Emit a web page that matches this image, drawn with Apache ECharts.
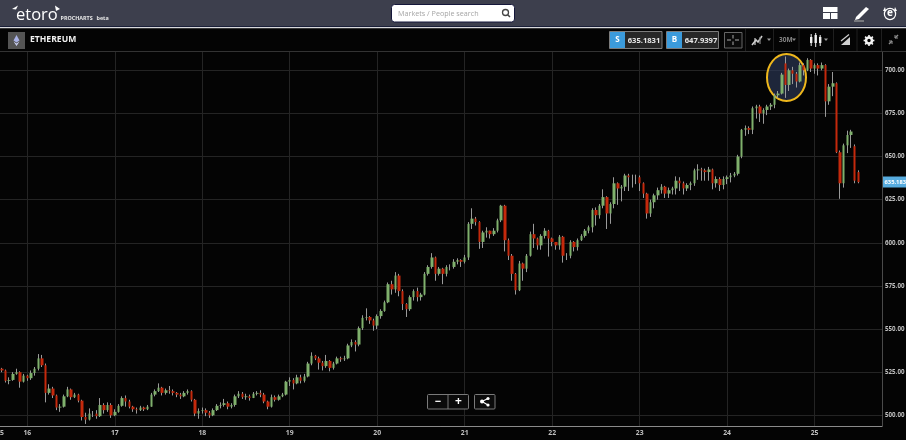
<!DOCTYPE html>
<html><head><meta charset="utf-8">
<script src="https://cdn.jsdelivr.net/npm/echarts@6/dist/echarts.min.js"></script>
<style>html,body{margin:0;padding:0;background:#000}#c{width:906px;height:440px}</style>
</head><body><div id="c"></div>
<script>
const dayTicks = [7,31,55,79,103,127,151,175,199,223];
const dayNames = {0:'5',7:'16',31:'17',55:'18',79:'19',103:'20',127:'21',151:'22',175:'23',199:'24',223:'25'};
const priceTicks = [500,525,550,575,600,625,650,675,700];
const slotCount = 242;
const lastPrice = '635.1831';
const askPrice = '647.9397';
const opens = [527,526,520,520.5,524,525,519.5,523,521.5,524.5,527,533,529,513,515.5,511.5,504.5,505,511,515,510.5,512,508.5,499,497.5,501,501,499.5,506,503,506,500,502,505.5,510,508,505,503.5,503,504.5,503.5,505,512,514,516,513,514.5,514,513,512,511,513,514,509,501,502.5,503,501.5,500,503,505.5,506,507,505,506,511,512.5,510.5,511,510,512.5,513,512,508,505,510.5,509,511,512,519.5,520.5,518.5,522,520,522.5,530,534.5,533,530.5,528.5,531.5,527.5,530,533,532.5,533,540.5,542.5,541,550.5,556.5,557,555,552,557.5,560.5,565.5,576,573,581,572,564.5,561.5,568.5,572,568.5,570,582,586,591.5,582,585,582,586,586,589,590,589,591.5,611,614,612,600.5,606,607,605,607,613,621.5,601.5,592.5,582,572.5,588,585,592.5,605,602.5,598.5,604,607,602.5,600.5,598.5,603.5,592.5,592.5,600.5,597.5,601.5,604,607,609,619,616,621.5,626.5,617,622.5,634.5,631.5,632.5,639,638,638,638,634.5,628.5,617,623.5,627.5,630.5,632.5,628.5,630.5,631.5,636,634.5,631.5,633.5,634.5,642,642.5,642,641,642.5,634.5,637,633.5,637,638,639,640,650,665.5,666.5,665.5,678,679,675,677,679,680,685.5,686.5,704,691.5,700,698,693.5,703,700,706,701,703,701,703,682,690.5,692.5,652.5,634.5,656.5,662.5,656,641];
const closes = [526,520,520.5,524,525,519.5,523,521.5,524.5,527,533,529,513,515.5,511.5,504.5,505,511,515,510.5,512,508.5,499,497.5,501,501,499.5,506,503,506,500,502,505.5,510,508,505,503.5,503,504.5,503.5,505,512,514,516,513,514.5,514,513,512,511,513,514,509,501,502.5,503,501.5,500,503,505.5,506,507,505,506,511,512.5,510.5,511,510,512.5,513,512,508,505,510.5,509,511,512,519.5,520.5,518.5,522,520,522.5,530,534.5,533,530.5,528.5,531.5,527.5,530,533,532.5,533,540.5,542.5,541,550.5,556.5,557,555,552,557.5,560.5,565.5,576,573,581,572,564.5,561.5,568.5,572,568.5,570,582,586,591.5,582,585,582,586,586,589,590,589,591.5,611,614,612,600.5,606,607,605,607,613,621.5,601.5,592.5,582,572.5,588,585,592.5,605,602.5,598.5,604,607,602.5,600.5,598.5,603.5,592.5,592.5,600.5,597.5,601.5,604,607,609,619,616,621.5,626.5,617,622.5,634.5,631.5,632.5,639,638,638,638,634.5,628.5,617,623.5,627.5,630.5,632.5,628.5,630.5,631.5,636,634.5,631.5,633.5,634.5,642,642.5,642,641,642.5,634.5,637,633.5,637,638,639,640,650,665.5,666.5,665.5,678,679,675,677,679,680,685.5,686.5,697.5,691.5,700,698,693.5,703,700,706,701,703,701,703,682,690.5,692.5,652.5,634.5,656.5,662.5,664.5,636,635.18];
const highs = [527.5,526.5,522,525,527,525.5,524,523.5,526,528,535.5,535,530,518,516.5,512,506.5,512,516.5,515.5,513,512.5,509,501.5,504,502.5,503,510,507,507.5,507,503.5,506.5,511,511.5,509,505.5,504.5,505.5,505,506,513,515,518.5,516.5,515.5,517,515,513.5,513,514,515,514.5,509.5,504,504.5,504,502.5,504,506.5,507.5,509.5,508,507,512,514,513.5,512.5,512,513.5,514,514.5,513,508.5,512,511.5,512,513,520,522,521.5,523.5,523.5,524,531,536.5,535,534,531.5,535,532,531,534,534,534.5,541.5,544,543.5,551.5,558,562,557.5,556,558.5,561.5,566.5,577,578,583,582,573,565,569.5,573,574,571,583,587,594,592,586,585.5,587,587.5,590.5,591,590.5,593,612,620,615,612.5,607,609,607,608.5,614,622,622,602.5,593.5,582.5,589.5,588.5,593.5,606.5,611,603,605,608.5,607.5,603,600,604.5,604,594,601.5,601,602.5,605,608,610,620,620.5,622.5,631,627,623.5,638,635,633.5,640,640,639.5,639.5,639,635,629,625,628.5,632,634,633,632,632.5,638.5,638,635.5,634.5,635.5,643,645.5,643.5,643,644,643,638.5,638,638.5,639,640.5,641,651,666,668,667.5,679,680,680,678,680,681,686.5,688,698.5,708,701,702,699,704.5,704,707,706.5,704,704,704.5,703.5,692,699,693,653.5,657.5,665,665.5,657,642];
const lows = [525,519,518,520,523.5,516,519,520,520.5,523,526,528,507.5,512,510,503,502,504.5,510.5,509,510,507.5,497,495,497,499,498,499,501,502,498.5,499.5,501.5,505,505,504,502,501,502.5,502.5,503,505,511,513.5,511.5,512,512.5,511.5,510.5,509.5,510.5,512,508,499.5,498,501,499.5,498.5,499.5,502.5,504,505,503.5,504,505,510,509.5,509,508.5,510,511.5,510.5,507,503.5,504.5,508,508.5,510.5,511.5,517,515,518,518.5,519,522,529,532,526.5,526,527.5,525.5,526.5,529.5,531,531.5,532.5,539.5,537,540,549.5,555,553,549,550,556,560,565,570,571,569,561,557,560.5,566.5,566,566.5,569.5,581,585,578,581,576,580.5,584,585,587.5,586,588,590,608,610,596.5,597,603,602.5,604,606,612,595,590,578,570,572,578,583,592,597,596,596,602.5,592,598,596,596,588.5,590,591,595,595.5,601,603,605.5,606,610,614,620,608,611,620,622,624,630,630,632,634,630,626,614,615,620,625,628.5,626,626,628,628,630,628,630,630.5,633,636.5,636,636,636,631,632,630,631,634,635,638,639,649,662,663,663,672,670,669,674,677,678,684,686,684,688,692,690,693,697,699.5,699,698,697,700,673,680,685,652,625.5,632,652,655,634.5,634.5];

const slots = Array.from({length:slotCount},(_,i)=>String(i));
const wickData = opens.map((o,i)=>[o,closes[i],lows[i],highs[i]]);
const bodyData = opens.map((o,i)=>[o,closes[i],Math.min(o,closes[i]),Math.max(o,closes[i])]);

const GREEN='#7fb06c', RED='#c4290c', WICK='#9a9a9a', BLUE='#3b9bdc';
const FONT='"Open Sans", sans-serif';
const HZ=100;
function rect(x,y,w,h,fill,stroke,r,z){return {type:'rect',z:z||HZ,shape:{x,y,width:w,height:h,r:r||0},style:{fill:fill||'transparent',stroke:stroke||null,lineWidth:1},silent:true};}
function line(x1,y1,x2,y2,c,w){return {type:'line',z:HZ+1,shape:{x1,y1,x2,y2},style:{stroke:c,lineWidth:w||1},silent:true};}
function text(t,x,y,fill,size,weight,align){return {type:'text',z:HZ+2,x,y,style:{text:t,fill,font:(weight||'normal')+' '+size+'px '+FONT,textAlign:align||'left',textVerticalAlign:'middle'},silent:true};}
function poly(pts,fill,stroke,w){return {type:fill?'polygon':'polyline',z:HZ+1,shape:{points:pts},style:{fill:fill||'transparent',stroke:stroke||null,lineWidth:w||1},silent:true};}
function circ(cx,cy,r,fill,stroke,w){return {type:'circle',z:HZ+1,shape:{cx,cy,r},style:{fill:fill||'transparent',stroke:stroke||null,lineWidth:w||1},silent:true};}

const gear=[];
[[0,-5.4,0,-3],[0,5.4,0,3],[-5.4,0,-3,0],[5.4,0,3,0],[-3.9,-3.9,-2,-2],[3.9,3.9,2,2],[-3.9,3.9,-2,2],[3.9,-3.9,2,-2]].forEach(s=>gear.push(line(869+s[0],40.5+s[1],869+s[2],40.5+s[3],'#f4f4f4',1.6)));

const g=[
 // highlight ellipse under the candles
 {type:'ellipse',z:1,shape:{cx:786.5,cy:77.5,rx:19.5,ry:23.5},style:{fill:'rgba(46,60,92,0.62)',stroke:'#eeb71c',lineWidth:2},silent:true},
 // header
 rect(0,0,906,26,'#3d3f4d'),
 rect(0,26,906,1,'#1a1f38'),
 rect(0,27,906,1.4,'#d8d8dc'),
 rect(0,28.4,906,22.6,'#040404'),
 rect(0,51,906,1,'#333333'),
 text('etoro',16,15,'#ffffff',16.5,'normal'),
 poly([[12,9],[18,5.5],[16,9.5]],'#ffffff'),
 poly([[55,5.5],[60,9],[56,11]],'#ffffff'),
 text('PROCHARTS',60.5,18.5,'#e8e8e8',5.4,'bold'),
 text('beta',96.5,18.5,'#e8e8e8',5.4,'bold'),
 rect(391.5,4.5,123,17.5,'#ffffff','#15173a',3),
 text('Markets / People search',398,13.5,'#a5a5a5',7.2),
 circ(505.5,12.5,3,null,'#444444',1.3),
 line(507.7,14.7,510,17,'#444444',1.5),
 // layout icon, pencil, profile
 rect(823,7,14.5,5,'#ffffff'),
 rect(823,13,7,6,'#ffffff'),
 rect(831,13,6.5,6,'#ffffff'),
 poly([[856,17],[866,7],[869,9],[859,19],[855,20]],'#ffffff'),
 line(854,21,864,21,'#9a9a9a',1.3),
 circ(890,14,5.6,'#3d3f4d','#ffffff',1.2),
 text('e',890,13.5,'#ffffff',10,'bold','center'),
 poly([[883,11],[885,7],[886,11]],'#ffffff'),
 poly([[897,11],[895,7],[894,11]],'#ffffff'),
 // instrument
 rect(8,32,17,17,'#545454'),
 poly([[16.5,35],[19.5,40.5],[16.5,42.5],[13.5,40.5]],'#aab2e6'),
 poly([[13.5,41.5],[16.5,43.5],[19.5,41.5],[16.5,46]],'#c8cdf0'),
 text('ETHEREUM',30,40,'#f0f0f0',8.6,'bold'),
 // sell/buy
 rect(609.5,31.5,52.5,17,'#272727','#7c7c7c'),
 rect(610,32,15,16,BLUE),
 text('S',617.5,40,'#ffffff',8,'bold','center'),
 text(lastPrice,644,40.5,'#e8e8e8',7.6,'bold','center'),
 rect(666.5,31.5,52,17,'#272727','#7c7c7c'),
 rect(667,32,15,16,BLUE),
 text('B',674.5,40,'#ffffff',8,'bold','center'),
 text(askPrice,701,40.5,'#e8e8e8',7.6,'bold','center'),
 rect(724.5,32.5,17.5,15.5,'#0a0a0a','#666666'),
 line(733,35,733,38.5,'#aaaaaa'),line(733,41.5,733,45,'#aaaaaa'),
 line(727,40,731,40,'#aaaaaa'),line(735,40,739,40,'#aaaaaa'),
 line(745.5,29,745.5,51,'#1f1f1f'),line(773.5,29,773.5,51,'#1f1f1f'),line(799,29,799,51,'#1f1f1f'),
 line(833.5,29,833.5,51,'#1f1f1f'),line(857,29,857,51,'#1f1f1f'),line(881.5,29,881.5,51,'#1f1f1f'),
 // chart tools
 poly([[752,45],[756,40],[758,42],[762,36]],null,'#cfcfcf',1.6),
 line(755,38,755,45,'#cfcfcf',1.2),line(760,37,760,44,'#8a8a8a',1.2),
 poly([[767,38.5],[771,38.5],[769,41]],'#999999'),
 text('30M',779,40.5,'#858585',6.5,'bold'),
 poly([[792,38.5],[796,38.5],[794,41]],'#888888'),
 rect(810,37,2.4,6,'#f0f0f0'),line(811.2,34,811.2,46,'#f0f0f0'),
 rect(814.5,35,2.4,8,'#f0f0f0'),line(815.7,33,815.7,47,'#f0f0f0'),
 rect(819,37,2.4,6,'#f0f0f0'),line(820.2,35,820.2,46,'#f0f0f0'),
 poly([[824,38.5],[828,38.5],[826,41]],'#999999'),
 poly([[841,45],[850,37],[850,45]],'#cfcfcf'),
 line(841,41,849,34.5,'#cfcfcf',1.2),
 circ(869,40.5,3,null,'#f4f4f4',2.6),
 ...gear,
 line(889,44,892,41,'#8f8f8f',1.4),line(889,41,892,41,'#8f8f8f'),line(892,41,892,44,'#8f8f8f'),
 line(898,35,895,38,'#8f8f8f',1.4),line(895,38,898,38,'#8f8f8f'),line(895,35,895,38,'#8f8f8f'),
 // zoom and share
 rect(427.5,394.5,41,14.5,'#0b0b0b','#7a7a7a',1),
 line(448,394.5,448,409,'#7a7a7a'),
 text('−',438,401.5,'#ffffff',11,'bold','center'),
 text('+',458.5,401.5,'#ffffff',12,'bold','center'),
 rect(474.5,394.5,20.5,14.5,'#0b0b0b','#7a7a7a',1),
 line(482,401.5,488,398.5,'#ffffff',1.1),line(482,401.5,488,405,'#ffffff',1.1),
 circ(482,401.5,2,'#ffffff'),circ(488,398.5,1.6,'#ffffff'),circ(488,405,1.6,'#ffffff'),
 // last price tag
 rect(883,176.5,23,11,'#57acdf'),
 text(lastPrice,884.5,182.5,'#ffffff',5.8,'bold')
];

const chart=echarts.init(document.getElementById('c'));
chart.setOption({
 animation:false,
 backgroundColor:'#040404',
 grid:{left:0,right:24,top:52,bottom:14,outerBoundsMode:'none'},
 xAxis:{type:'category',data:slots,boundaryGap:true,
  axisLine:{show:true,onZero:false,lineStyle:{color:'#8a8a8a',width:1}},
  axisTick:{show:false,alignWithLabel:true,customValues:dayTicks},
  splitLine:{show:true,alignWithLabel:true,lineStyle:{color:'#242424',width:1}},
  axisLabel:{show:true,customValues:[0].concat(dayTicks),formatter:(v,i)=>dayNames[+v]??'',color:'#c0c0c0',fontSize:6.8,fontWeight:'bold',fontFamily:'Open Sans',margin:4}},
 yAxis:{type:'value',position:'right',min:493.8,max:710.6,
  axisLine:{show:true,onZero:false,lineStyle:{color:'#4a4a4a'}},
  axisTick:{show:false,customValues:priceTicks},
  splitLine:{show:true,lineStyle:{color:'#242424',width:1}},
  axisLabel:{customValues:priceTicks,formatter:v=>Number(v).toFixed(2),color:'#c0c0c0',fontSize:6.2,fontWeight:'bold',fontFamily:'Open Sans',margin:3}},
 series:[
  {type:'candlestick',name:'wicks',data:wickData,barWidth:1,z:2,silent:true,
   itemStyle:{color:WICK,color0:WICK,borderColor:WICK,borderColor0:WICK,borderWidth:1}},
  {type:'candlestick',name:'bodies',data:bodyData,barWidth:3,z:3,silent:true,
   itemStyle:{color:GREEN,color0:RED,borderColor:GREEN,borderColor0:RED,borderWidth:0}}
 ],
 graphic:{elements:g}
});
</script></body></html>
